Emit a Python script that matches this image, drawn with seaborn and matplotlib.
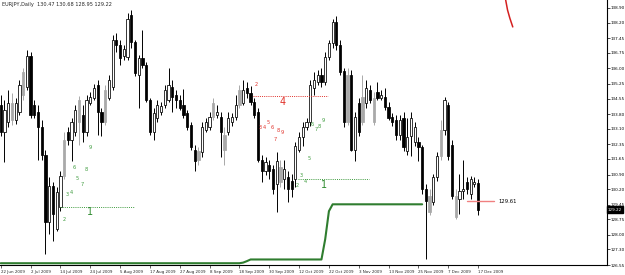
import numpy as np
import pandas as pd
import matplotlib
matplotlib.use("Agg")
import matplotlib.pyplot as plt
import seaborn as sns

# ---------------- data (EURJPY daily) ----------------
opens = [134.26, 132.92, 133.40, 134.35, 133.54, 133.92, 134.74, 135.12, 136.60, 134.26,
         133.92, 133.16, 131.86, 128.61, 130.33, 128.27, 129.33, 130.81, 132.92, 132.58,
         132.92, 133.40, 133.78, 132.92, 134.35, 134.59, 135.21, 133.92, 133.40, 134.59,
         135.12, 137.37, 137.13, 136.60, 136.55, 138.57, 137.27, 135.69, 136.51, 136.17,
         134.50, 132.92, 133.63, 133.92, 134.26, 134.50, 135.12, 134.74, 134.50, 134.26,
         133.87, 133.30, 132.10, 132.01, 131.96, 133.06, 133.20, 133.68, 133.78, 133.68,
         132.82, 132.96, 133.40, 133.68, 134.26, 134.35, 135.07, 134.83, 134.40, 133.92,
         131.62, 131.05, 131.38, 131.15, 130.43, 131.24, 130.67, 130.76, 130.57, 130.67,
         132.10, 132.68, 133.20, 133.40, 135.07, 135.36, 135.69, 135.36, 136.55, 137.23,
         138.23, 137.13, 135.88, 133.44, 135.69, 132.10, 134.35, 134.64, 134.35, 134.98,
         134.59, 134.88, 134.59, 134.64, 134.16, 133.68, 133.54, 132.82, 133.63, 132.01,
         132.73, 132.44, 132.44, 132.20, 130.19, 129.85, 129.57, 130.76, 131.77, 133.06,
         134.26, 132.34, 129.85, 129.71, 130.09, 130.52, 129.95, 130.43, 130.47]
highs = [134.74, 134.50, 134.98, 134.83, 134.59, 135.45, 136.03, 136.89, 136.79, 134.50,
         134.26, 133.54, 132.10, 130.76, 130.52, 130.28, 131.05, 132.92, 133.16, 133.63,
         134.26, 134.69, 134.26, 134.74, 134.88, 135.26, 135.45, 134.11, 135.21, 135.69,
         137.61, 137.70, 137.37, 137.13, 138.66, 138.80, 137.37, 136.65, 137.85, 136.31,
         134.59, 134.11, 134.50, 134.40, 135.21, 136.03, 135.45, 134.98, 134.74, 135.02,
         134.02, 133.44, 132.34, 132.20, 133.44, 133.63, 133.92, 134.59, 134.26, 133.92,
         133.16, 133.92, 133.87, 134.74, 135.21, 135.45, 135.36, 135.17, 134.59, 134.11,
         131.86, 131.72, 131.62, 131.38, 131.96, 131.62, 131.62, 131.05, 130.91, 132.44,
         132.92, 133.44, 133.63, 135.45, 135.84, 135.93, 136.03, 136.79, 137.37, 138.37,
         138.52, 137.37, 136.03, 136.03, 135.93, 133.92, 134.59, 135.69, 135.45, 135.21,
         134.88, 135.36, 134.98, 135.07, 134.40, 133.87, 133.78, 133.78, 133.92, 133.63,
         133.92, 133.44, 132.68, 132.34, 130.43, 130.19, 130.91, 131.96, 133.54, 134.64,
         134.40, 132.58, 130.19, 130.91, 131.62, 130.76, 130.81, 130.76, 130.68]
lows = [132.73, 131.48, 133.16, 133.30, 133.35, 133.78, 134.50, 134.98, 133.63, 133.63,
        131.62, 131.62, 127.08, 128.03, 127.70, 128.18, 129.14, 130.67, 132.34, 131.53,
        132.73, 132.34, 132.48, 132.77, 134.26, 134.50, 132.82, 132.73, 133.30, 134.50,
        134.98, 136.79, 136.17, 136.41, 136.41, 136.99, 135.65, 134.11, 136.03, 134.40,
        132.82, 132.58, 133.44, 133.78, 134.11, 134.40, 133.92, 134.11, 134.02, 133.63,
        133.06, 132.10, 131.05, 131.38, 131.72, 132.92, 133.06, 133.54, 133.63, 131.72,
        131.38, 132.82, 133.25, 133.54, 134.11, 134.26, 134.59, 134.26, 133.63, 131.48,
        130.52, 130.86, 130.67, 129.95, 129.09, 130.28, 130.19, 129.57, 129.80, 130.28,
        131.96, 132.25, 133.06, 133.25, 134.74, 135.21, 135.12, 135.21, 136.41, 136.99,
        136.89, 135.69, 133.16, 133.30, 132.01, 131.53, 132.77, 133.30, 134.11, 134.35,
        133.30, 134.50, 134.50, 134.02, 133.54, 133.25, 132.58, 132.58, 132.01, 131.86,
        131.77, 132.29, 131.53, 129.95, 126.84, 128.94, 129.42, 130.57, 131.62, 132.82,
        131.62, 129.71, 128.75, 129.00, 129.71, 129.95, 129.71, 130.28, 128.95]
closes = [132.92, 134.02, 134.35, 133.54, 134.35, 135.21, 135.84, 136.60, 133.78, 133.78,
          133.16, 131.86, 128.61, 130.33, 129.00, 130.04, 130.81, 132.58, 132.58, 133.40,
          134.02, 134.50, 132.96, 134.50, 134.64, 135.07, 133.92, 133.40, 134.98, 135.45,
          137.37, 137.13, 136.51, 136.94, 138.37, 137.27, 135.79, 136.51, 136.17, 134.50,
          132.92, 133.87, 134.26, 134.21, 134.98, 135.21, 134.64, 134.50, 134.11, 133.78,
          133.20, 132.20, 131.53, 131.62, 133.16, 133.40, 133.68, 134.35, 133.92, 132.96,
          132.10, 133.63, 133.68, 134.26, 134.98, 134.98, 134.83, 134.40, 133.78, 131.62,
          131.05, 131.48, 131.05, 130.19, 131.53, 130.52, 131.15, 130.19, 130.19, 132.25,
          132.68, 133.20, 133.44, 135.21, 135.45, 135.69, 135.36, 136.55, 137.23, 138.23,
          137.13, 135.84, 133.44, 135.69, 132.10, 133.68, 132.92, 133.40, 135.07, 134.50,
          133.44, 134.59, 134.74, 134.16, 133.63, 133.40, 132.82, 133.54, 132.20, 132.68,
          133.63, 133.20, 132.20, 130.19, 129.61, 129.09, 130.76, 131.77, 133.06, 134.50,
          131.77, 129.85, 128.85, 130.09, 130.19, 130.19, 130.67, 130.52, 129.22]
gray_bars = [3, 6, 17, 21, 28, 53, 57, 60, 64, 75, 93, 97, 100, 115, 118, 122]

date_labels = ["22 Jun 2009", "2 Jul 2009", "14 Jul 2009", "24 Jul 2009", "5 Aug 2009",
               "17 Aug 2009", "27 Aug 2009", "8 Sep 2009", "18 Sep 2009", "30 Sep 2009",
               "12 Oct 2009", "22 Oct 2009", "3 Nov 2009", "13 Nov 2009", "25 Nov 2009",
               "7 Dec 2009", "17 Dec 2009"]
date_label_bars = [0, 8, 16, 24, 32, 40, 48, 56, 64, 72, 80, 88, 96, 104, 112, 120, 128]
price_ticks = [138.90, 138.20, 137.45, 136.75, 136.00, 135.25, 134.55, 133.80, 133.10,
               132.35, 131.65, 130.90, 130.20, 129.45, 128.75, 128.00, 127.30, 126.55]

# step indicator (green line)
ind_bars = [0, 64, 65, 66, 67, 86, 87, 88, 89, 113]
ind_values = [126.64, 126.64, 126.67, 126.74, 126.82, 126.82, 127.79, 129.14, 129.47, 129.47]

# count labels (bar position, price, text)
green_a = [(16.9, 128.75, "2"), (17.7, 129.95, "3"), (18.8, 130.04, "4"), (20.6, 130.72, "5"),
           (19.8, 131.24, "6"), (21.7, 130.43, "7"), (22.8, 131.15, "8"), (23.9, 132.20, "9")]
red_b = [(68.6, 135.21, "2"), (69.7, 133.16, "3"), (70.8, 133.16, "4"), (71.8, 133.40, "5"),
         (72.7, 133.16, "6"), (74.5, 133.02, "8"), (75.6, 132.92, "9"), (73.7, 132.58, "7")]
green_c = [(79.6, 130.38, "2"), (80.7, 130.86, "3"), (81.8, 130.57, "4"), (82.6, 131.67, "5"),
           (83.6, 133.30, "6"), (84.5, 133.06, "7"), (85.5, 133.20, "8"), (86.6, 133.49, "9")]
big_labels = [(23.9, 129.09, "1", "#2e8b2e"), (75.6, 134.40, "4", "#e0312a"),
              (86.6, 130.38, "1", "#2e8b2e")]
green_dot_1 = ([15.8, 35.7], 129.33)
red_dot = ([67.6, 87.7], 134.69)
green_dot_2 = ([79.6, 98.7], 130.67)
level_bars = [125.0, 132.4]
level_price = 129.61
arc_bar = [135.4, 135.9, 136.5, 137.3]
arc_price = [139.28, 138.80, 138.42, 137.99]
title = "EURJPY,Daily  130.47 130.68 128.95 129.22"
last_close = closes[-1]

# ---------------- plotting ----------------
sns.set_style("white")
plt.rcParams['font.family'] = ['DejaVu Sans']

fig = plt.figure(figsize=(6.25, 2.75), dpi=100)
ax = fig.add_axes([0, 0.036, 0.971, 0.964])

df = pd.DataFrame(dict(o=opens, h=highs, l=lows, c=closes))
df["i"] = np.arange(len(df))
df["gray"] = df["i"].isin(gray_bars)
df["bottom"] = df[["o", "c"]].min(axis=1)
df["height"] = (df["c"] - df["o"]).abs().clip(lower=0.03)
df["up"] = df["c"] >= df["o"]

for _, r in df.iterrows():
    if r.gray:
        edge, fill = "#a9a9a9", "#a9a9a9"
    else:
        edge = "black"
        fill = "white" if r.up else "black"
    ax.vlines(r.i, r.l, r.h, color=edge, lw=0.7, zorder=2)
    ax.bar(r.i, r.height, bottom=r.bottom, width=0.6, color=fill,
           edgecolor=edge, linewidth=0.55, zorder=3)

sns.lineplot(x=ind_bars, y=ind_values, ax=ax, color="#2f7d2f", lw=1.5, zorder=4)

for (xs, p), col in [(green_dot_1, "#3c9a3c"), (red_dot, "#e0312a"), (green_dot_2, "#3c9a3c")]:
    ax.plot(xs, [p, p], color=col, lw=0.7, ls=(0, (1, 1.2)), zorder=4)

for lst, col in [(green_a, "#3c9a3c"), (red_b, "#e0312a"), (green_c, "#3c9a3c")]:
    for x, y, t in lst:
        ax.text(x, y, t, color=col, fontsize=3.6, ha="center", va="center", zorder=5)
for x, y, t, col in big_labels:
    ax.text(x, y, t, color=col, fontsize=7, ha="center", va="center", zorder=5)

ax.plot(level_bars, [level_price, level_price], color="#f08080", lw=1.0, zorder=4)
ax.text(level_bars[1] + 1.0, level_price, f"{level_price:.2f}", fontsize=3.8,
        ha="left", va="center", color="black")
ax.plot(arc_bar, arc_price, color="#d42020", lw=1.1, zorder=4)

ax.set_xlim(-0.2, -0.2 + 607 / 3.73)
ax.set_ylim(126.597, 139.283)

ax.yaxis.tick_right()
ax.set_yticks(price_ticks)
ax.set_yticklabels([f"{v:.2f}" for v in price_ticks], fontsize=3.0)
ax.tick_params(axis="y", length=2, width=0.5, pad=1, colors="black", right=True)
ax.set_xticks(date_label_bars)
ax.set_xticklabels(date_labels, fontsize=2.9, ha="left")
ax.tick_params(axis="x", length=2, width=0.5, pad=1.5, bottom=True)
for s in ["top", "left"]:
    ax.spines[s].set_visible(False)
for s in ["right", "bottom"]:
    ax.spines[s].set_color("black")
    ax.spines[s].set_linewidth(0.8)

ax.text(1.002, last_close, f"{last_close:.2f}", transform=ax.get_yaxis_transform(),
        fontsize=3.0, color="white", ha="left", va="center",
        bbox=dict(boxstyle="square,pad=0.25", fc="black", ec="black"), zorder=6)
ax.text(0.003, 0.992, title, transform=ax.transAxes, fontsize=3.6, ha="left", va="top")

ax.set_xlabel("")
ax.set_ylabel("")
fig.savefig("out.png", dpi=100, facecolor="white")
